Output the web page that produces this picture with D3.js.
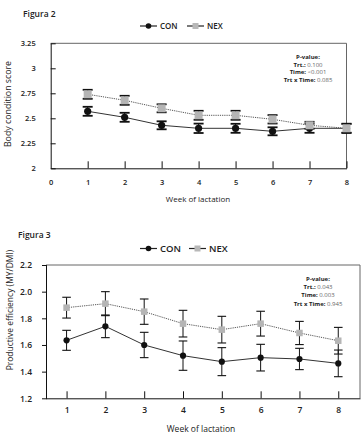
<!DOCTYPE html>
<html>
<head>
<meta charset="utf-8">
<script src="https://cdn.jsdelivr.net/npm/d3@7"></script>
<style>
  body { margin: 0; background: #fff; }
  text { font-family: "Open Sans", sans-serif; fill: #222; }
</style>
</head>
<body>
<svg id="chart" width="363" height="437"></svg>
<script>
// week numbers shared by both figures
var weeks = [1, 2, 3, 4, 5, 6, 7, 8];

// Figura 2 - body condition score
var bcsCon    = [2.57, 2.51, 2.43, 2.40, 2.40, 2.37, 2.40, 2.40];
var bcsConErr = [0.045, 0.045, 0.04, 0.047, 0.045, 0.04, 0.045, 0.045];
var bcsNex    = [2.74, 2.68, 2.60, 2.53, 2.53, 2.49, 2.43, 2.40];
var bcsNexErr = [0.045, 0.045, 0.04, 0.045, 0.045, 0.042, 0.035, 0.045];
var bcsTicks  = [2, 2.25, 2.5, 2.75, 3, 3.25];
var bcsXTicks = [0, 1, 2, 3, 4, 5, 6, 7, 8];
var bcsStats  = [["P-value:", ""], ["Trt.: ", "0.100"], ["Time: ", "<0.001"], ["Trt x Time: ", "0.085"]];

// Figura 3 - productive efficiency
var peCon    = [1.635, 1.74, 1.60, 1.52, 1.475, 1.505, 1.495, 1.462];
var peConErr = [0.075, 0.085, 0.095, 0.11, 0.105, 0.10, 0.08, 0.10];
var peNex    = [1.88, 1.91, 1.85, 1.76, 1.715, 1.76, 1.69, 1.632];
var peNexErr = [0.078, 0.09, 0.095, 0.10, 0.10, 0.093, 0.087, 0.10];
var peTicks  = [1.2, 1.4, 1.6, 1.8, 2.0, 2.2];
var peStats  = [["P-value:", ""], ["Trt.: ", "0.043"], ["Time: ", "0.003"], ["Trt x Time: ", "0.945"]];

var svg = d3.select("#chart");

function series(vals, errs) {
	return weeks.map((w, i) => ({week: w, v: vals[i], e: errs[i]}));
}

function drawPanel(o) {
	var g = svg.append("g");
	var x = o.x, y = o.y;
	var x0 = x.range()[0], x1 = x.range()[1];
	var y0 = y.range()[0], y1 = y.range()[1];

	// title
	g.append("text")
	.attr("x", o.titleX).attr("y", o.titleY)
	.style("font-size", "8.5px").style("font-weight", 600)
	.text(o.title);

	// legend
	var lg = g.append("g").attr("transform", "translate(0," + o.legendY + ")");
	lg.append("line").attr("x1", o.legX[0]).attr("x2", o.legX[0] + 17)
	.attr("stroke", "#222").attr("stroke-width", 1.2);
	lg.append("circle").attr("cx", o.legX[0] + 8.5).attr("r", 2.8).attr("fill", "#111");
	lg.append("text").attr("x", o.legX[0] + 20).attr("dy", "0.35em")
	.style("font-size", o.legFont).style("font-weight", 600).text("CON");
	lg.append("line").attr("x1", o.legX[1]).attr("x2", o.legX[1] + 17)
	.attr("stroke", "#222").attr("stroke-width", 1.2);
	lg.append("rect").attr("x", o.legX[1] + 5.5).attr("y", -3).attr("width", 6).attr("height", 6)
	.attr("fill", "#b8b8b8");
	lg.append("text").attr("x", o.legX[1] + 20).attr("dy", "0.35em")
	.style("font-size", o.legFont).style("font-weight", 600).text("NEX");

	// box
	g.append("path")
	.attr("d", "M" + x0 + "," + y1 + "H" + x1 + "V" + y0)
	.attr("fill", "none").attr("stroke", "#666").attr("stroke-width", 1);

	// axes
	var yAxis = d3.axisLeft(y).tickValues(o.yTicks).tickFormat(o.yFormat)
		.tickSizeInner(o.yTickIn).tickSizeOuter(0).tickPadding(o.yPad);
	var ya = g.append("g").attr("transform", "translate(" + x0 + ",0)").call(yAxis);
	ya.select(".domain").attr("stroke", "#111");
	ya.selectAll(".tick line").attr("stroke", "#111");
	if (o.yTickInside) {
		ya.selectAll(".tick line").attr("x1", 0).attr("x2", 5);
	} else {
		ya.selectAll(".tick line").attr("x1", -4).attr("x2", 1);
	}
	ya.selectAll(".tick text").style("font-family", "Open Sans, sans-serif")
	.style("font-size", o.tickFont).style("font-weight", 600).attr("fill", "#222");

	var xAxis = d3.axisBottom(x).tickValues(o.xTicks).tickFormat(d3.format("d"))
		.tickSizeInner(0).tickSizeOuter(0).tickPadding(o.xPad);
	var xa = g.append("g").attr("transform", "translate(0," + y0 + ")").call(xAxis);
	xa.select(".domain").attr("stroke", "#111");
	xa.selectAll(".tick line").attr("stroke", "#111").attr("y1", 0).attr("y2", -7);
	xa.selectAll(".tick text").style("font-family", "Open Sans, sans-serif")
	.style("font-size", o.tickFont).style("font-weight", 600).attr("fill", "#222");
	xa.selectAll(".tick").filter(d => d === 0).select("line").remove();

	g.append("text")
	.attr("x", o.xTitle[0]).attr("y", o.xTitle[1]).attr("text-anchor", "middle")
	.style("font-size", o.titleFont).text("Week of lactation");

	g.append("text")
	.attr("transform", "translate(" + o.yTitle[0] + "," + o.yTitle[1] + ") rotate(-90)")
	.attr("text-anchor", "middle").attr("dy", "0.35em")
	.style("font-size", o.yTitleFont).text(o.yLabel);

	// stats annotation
	var st = g.append("text").attr("text-anchor", "middle").style("font-size", "6px");
	o.stats.forEach((s, i) => {
		var t = st.append("tspan").attr("x", o.statXY[0]).attr("y", o.statXY[1] + i * o.statStep);
		t.append("tspan").style("font-weight", 700).text(s[0]);
		t.append("tspan").attr("fill", "#666").text(s[1]);
	});

	var line = d3.line().x(d => x(d.week)).y(d => y(d.v));

	var con = series(o.con, o.conErr);
	var nex = series(o.nex, o.nexErr);

	g.append("path").datum(con).attr("d", line)
	.attr("fill", "none").attr("stroke", "#333").attr("stroke-width", 1);
	g.append("path").datum(nex).attr("d", line)
	.attr("fill", "none").attr("stroke", "#555").attr("stroke-width", 1)
	.attr("stroke-dasharray", "1.2,1");

	function errorBars(data) {
		var eb = g.append("g").selectAll("g").data(data).enter().append("g")
			.attr("stroke", "#111");
		eb.append("line")
		.attr("x1", d => x(d.week)).attr("x2", d => x(d.week))
		.attr("y1", d => y(d.v - d.e)).attr("y2", d => y(d.v + d.e))
		.attr("stroke-width", 1);
		eb.append("line")
		.attr("x1", d => x(d.week) - o.cap).attr("x2", d => x(d.week) + o.cap)
		.attr("y1", d => y(d.v + d.e)).attr("y2", d => y(d.v + d.e))
		.attr("stroke-width", o.capW);
		eb.append("line")
		.attr("x1", d => x(d.week) - o.cap).attr("x2", d => x(d.week) + o.cap)
		.attr("y1", d => y(d.v - d.e)).attr("y2", d => y(d.v - d.e))
		.attr("stroke-width", o.capW);
	}
	errorBars(con);
	errorBars(nex);

	g.append("g").selectAll("circle").data(con).enter().append("circle")
	.attr("cx", d => x(d.week)).attr("cy", d => y(d.v)).attr("r", o.dotR)
	.attr("fill", "#111");
	g.append("g").selectAll("rect").data(nex).enter().append("rect")
	.attr("x", d => x(d.week) - o.sq / 2).attr("y", d => y(d.v) - o.sq / 2)
	.attr("width", o.sq).attr("height", o.sq)
	.attr("fill", "#b5b5b5");
}

drawPanel({
	title: "Figura 2", titleX: 23, titleY: 17,
	legendY: 26, legX: [140, 187], legFont: "8px",
	x: d3.scaleLinear().domain([0, 8]).range([50.7, 346.5]),
	y: d3.scaleLinear().domain([2, 3.25]).range([168.3, 43.3]),
	yTicks: bcsTicks, yFormat: d3.format(""), yTickIn: 5, yTickInside: true, yPad: 10,
	xTicks: bcsXTicks, xPad: 11, tickFont: "7.5px", titleFont: "8px", yTitleFont: "8.8px",
	xTitle: [198, 202], yTitle: [8, 104], yLabel: "Body condition score",
	stats: bcsStats, statXY: [308, 59], statStep: 7.6,
	con: bcsCon, conErr: bcsConErr, nex: bcsNex, nexErr: bcsNexErr,
	cap: 5, capW: 1.8, dotR: 3.6, sq: 8
});

drawPanel({
	title: "Figura 3", titleX: 18, titleY: 238,
	legendY: 248.5, legX: [140, 189], legFont: "9.5px",
	x: d3.scaleLinear().domain([0.47, 8.56]).range([46, 360]),
	y: d3.scaleLinear().domain([1.2, 2.2]).range([398.3, 265]),
	yTicks: peTicks, yFormat: d3.format(".1f"), yTickIn: 4, yTickInside: false, yPad: 10,
	xTicks: weeks, xPad: 9, tickFont: "8.5px", titleFont: "8.5px", yTitleFont: "8.5px",
	xTitle: [201, 432], yTitle: [10, 310], yLabel: "Productive efficiency (MY/DMI)",
	stats: peStats, statXY: [318, 281], statStep: 8.2,
	con: peCon, conErr: peConErr, nex: peNex, nexErr: peNexErr,
	cap: 4.3, capW: 1.1, dotR: 3.1, sq: 6.5
});
</script>
</body>
</html>
